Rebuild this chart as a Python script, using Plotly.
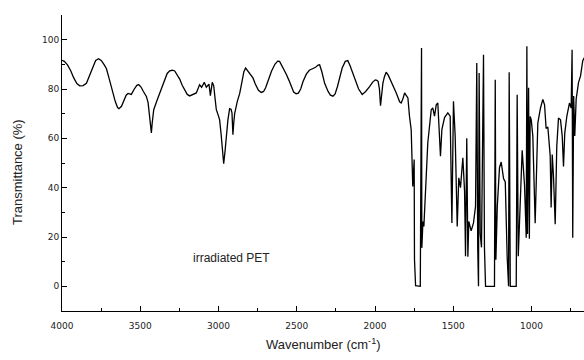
import plotly.graph_objects as go

wavenumber = [4000, 3985, 3965, 3945, 3925, 3905, 3887, 3865, 3844, 3825, 3805, 3785, 3766, 3748,
              3730, 3716, 3700, 3683, 3660, 3645, 3636, 3620, 3606, 3590, 3578, 3565, 3557, 3540,
              3522, 3510, 3495, 3480, 3461, 3450, 3440, 3432, 3429, 3424, 3414, 3395, 3376, 3360,
              3344, 3328, 3312, 3295, 3280, 3265, 3248, 3232, 3216, 3200, 3184, 3165, 3142, 3121,
              3108, 3091, 3078, 3061, 3052, 3040, 3031, 3020, 3014, 3000, 2993, 2984, 2977, 2967,
              2958, 2950, 2940, 2929, 2920, 2914, 2908, 2903, 2897, 2880, 2865, 2850, 2838, 2827,
              2815, 2800, 2780, 2765, 2745, 2727, 2712, 2699, 2680, 2661, 2640, 2622, 2610, 2595,
              2580, 2567, 2550, 2535, 2520, 2504, 2490, 2475, 2460, 2439, 2420, 2400, 2380, 2364,
              2354, 2340, 2322, 2300, 2285, 2269, 2255, 2240, 2226, 2210, 2190, 2174, 2160, 2144,
              2125, 2105, 2082, 2060, 2035, 2015, 1999, 1988, 1980, 1972, 1965, 1958, 1950, 1940,
              1929, 1915, 1900, 1886, 1865, 1843, 1833, 1822, 1811, 1802, 1790, 1780, 1769, 1759,
              1750, 1748, 1741, 1711,
              1703, 1701, 1694, 1688, 1679, 1663, 1641, 1631, 1620, 1609, 1599, 1582, 1573, 1556,
              1535, 1520, 1509, 1499, 1488, 1475, 1465, 1454, 1439, 1428, 1422, 1414, 1407, 1401,
              1386, 1371, 1358, 1350, 1344, 1339, 1335, 1328, 1320, 1307, 1301, 1294, 1237, 1232,
              1228, 1219, 1205, 1194, 1179, 1168, 1156, 1147, 1143, 1136, 1098, 1092, 1085, 1077,
              1060, 1045, 1034, 1030, 1026, 1019, 1014, 1009, 1002, 992, 986, 977, 960, 943, 928,
              917, 907, 896, 881, 875, 868, 860, 849, 839, 828, 815, 804, 796, 788, 775, 758, 747,
              741, 737, 731, 724, 715, 700, 687, 673, 660]
transmittance = [91.6, 91.2, 89.8, 87.5, 84.5, 82.2, 81.3, 81.4, 82.3, 85.5, 89.0, 91.6, 92.3, 91.5,
                 89.8, 88.2, 84.5, 80.0, 75.0, 72.5, 72.0, 73.0, 75.2, 77.5, 78.2, 78.0, 77.8, 79.8,
                 81.5, 81.8, 80.8, 79.0, 77.0, 74.5, 69.0, 63.0, 62.2, 66.0, 71.6, 75.0, 78.3, 81.5,
                 84.3, 86.3, 87.4, 87.6, 87.3, 85.8, 84.0, 81.5, 79.5, 77.8, 77.2, 77.6, 78.4, 81.7,
                 80.7, 82.7, 80.7, 82.0, 77.3, 82.7, 81.4, 75.0, 71.6, 69.0, 67.5, 62.0, 57.0, 49.7,
                 55.0, 60.8, 67.5, 72.0, 71.8, 70.3, 61.5, 66.0, 70.0, 75.0, 78.1, 83.0, 87.0, 88.5,
                 87.5, 86.0, 84.5, 82.0, 79.5, 78.6, 79.0, 80.5, 84.0, 87.3, 90.0, 91.3, 91.2, 89.5,
                 87.5, 86.0, 83.5, 81.0, 78.8, 78.1, 78.3, 80.0, 83.0, 86.0, 87.6, 88.2, 88.8, 89.7,
                 89.8, 87.0, 82.3, 79.0, 77.5, 77.1, 78.0, 81.0, 84.5, 88.5, 91.2, 91.5, 89.5, 86.5,
                 83.0, 80.0, 77.8, 79.0, 81.0, 82.8, 83.7, 83.5, 83.0, 80.0, 73.2, 78.0, 82.3, 85.0,
                 86.8, 85.5, 83.5, 81.7, 78.5, 74.8, 74.3, 76.0, 78.4, 77.5, 76.4, 69.0, 63.5, 40.5,
                 51.4, 10.8, 0.3, 0.0,
                 96.6, 15.6, 26.3, 24.3, 36.5, 58.1, 71.6, 72.3, 69.0, 73.6, 74.3, 52.7, 63.5, 68.4,
                 70.3, 69.0, 25.7, 75.0, 60.8, 24.3, 44.0, 40.0, 52.1, 38.5, 12.2, 60.0, 12.0, 26.3,
                 22.5, 25.7, 32.4, 90.5, 15.8, 0.0, 86.5, 21.2, 15.8, 93.9, 15.8, 0.0, 0.0, 83.8,
                 10.8, 32.4, 48.1, 50.4, 43.7, 42.3, 12.2, 0.0, 86.8, 0.0, 0.0, 77.7, 12.2, 27.5,
                 55.2, 41.0, 19.7, 97.3, 21.2, 80.5, 19.3, 68.9, 67.5, 61.0, 47.4, 25.6, 66.2, 72.3, 75.8,
                 73.6, 64.0, 64.6, 53.0, 32.0, 53.4, 44.6, 25.2, 56.7, 68.2, 67.5, 60.8, 48.6, 62.0, 68.8, 74.3, 72.3,
                 95.9, 19.7, 77.2, 61.0, 75.9, 82.6, 85.3, 91.5, 93.0]

x_ticks = [4000, 3500, 3000, 2500, 2000, 1500, 1000]
y_ticks = [0, 20, 40, 60, 80, 100]

fig = go.Figure()
fig.add_trace(go.Scatter(x=wavenumber, y=transmittance, mode="lines",
                         line=dict(color="black", width=1.3), showlegend=False))

tickfont = dict(family="DejaVu Sans", size=9, color="#222")
fig.update_layout(
    width=584, height=360,
    margin=dict(l=62, r=0, t=15, b=49),
    paper_bgcolor="white", plot_bgcolor="white",
    xaxis=dict(range=[4000, 665], tickvals=x_ticks, ticks="inside", ticklen=5,
               tickcolor="black", showline=True, linecolor="black", linewidth=1,
               showgrid=False, zeroline=False, tickfont=tickfont, ticklabelstandoff=6,
               minor=dict(ticks="inside", ticklen=3, dtick=250, tick0=0, tickcolor="black", showgrid=False)),
    yaxis=dict(range=[-10, 110], tickvals=y_ticks, ticks="inside", ticklen=5,
               tickcolor="black", showline=True, linecolor="black", linewidth=1,
               showgrid=False, zeroline=False, tickfont=tickfont,
               minor=dict(ticks="inside", ticklen=3, dtick=10, tick0=0, tickcolor="black", showgrid=False)),
    annotations=[
        dict(text="irradiated PET", x=3174, y=11.5, xref="x", yref="y", xanchor="left",
             yanchor="middle", showarrow=False, font=dict(family="Arial", size=12, color="#222")),
        dict(text="Wavenumber (cm<sup>-1</sup>)", x=0.5, y=-0.112, xref="paper", yref="paper",
             xanchor="center", yanchor="middle", showarrow=False,
             font=dict(family="Arial", size=13, color="#222")),
        dict(text="Transmittance (%)", x=-0.084, y=0.47, xref="paper", yref="paper", textangle=-90,
             xanchor="center", yanchor="middle", showarrow=False,
             font=dict(family="Arial", size=13, color="#222")),
    ],
)

fig.write_html("out.html")
